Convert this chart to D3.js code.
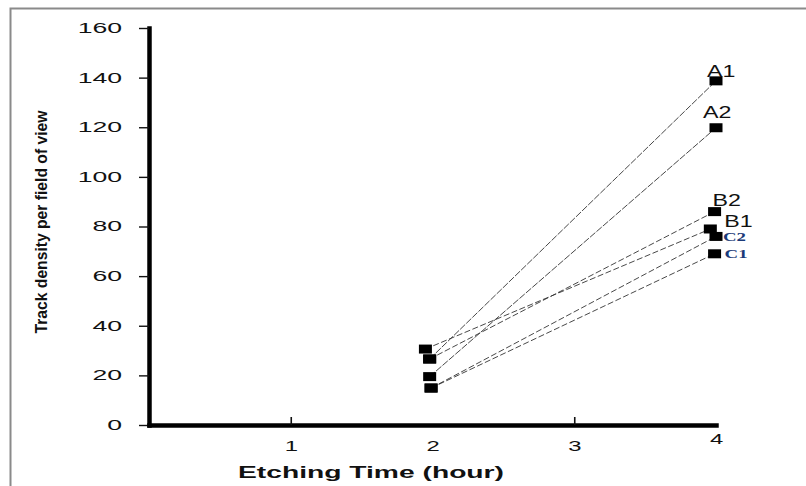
<!DOCTYPE html>
<html>
<head>
<meta charset="utf-8">
<style>
    body {
        margin: 0;
        background: #fff;
    }

    svg {
        display: block;
        font-family: Arial, "Liberation Sans", sans-serif;
    }
</style>
</head>
<body>
<svg width="806" height="486"></svg>

<script src="https://d3js.org/d3.v7.min.js"></script>
<script>
    // track density per field of view vs etching time (hour)
    const series = ["A1", "A2", "B1", "B2", "C1", "C2"];
    const startTime = [1.98, 1.98, 1.95, 1.98, 1.99, 1.99];
    const startDensity = [26.6, 19.5, 30.6, 26.6, 14.9, 14.9];
    const endTime = [4, 4, 3.96, 3.99, 3.99, 4];
    const endDensity = [138.7, 119.8, 79, 86, 69, 76];

    const xTicks = [1, 2, 3, 4];
    const yTicks = [0, 20, 40, 60, 80, 100, 120, 140, 160];

    let svg = d3.select("svg");

    let x = d3.scaleLinear().domain([0, 4]).range([149, 716]);
    let y = d3.scaleLinear().domain([0, 160]).range([425, 28]);

    // stretch text sideways, the source picture is very wide
    function stretch(sel, k) {
        sel.each(function () {
            let w = this.getComputedTextLength();
            d3.select(this)
                .attr("textLength", w * k)
                .attr("lengthAdjust", "spacingAndGlyphs");
        });
    }

    // outer frame (top and left edges only)
    svg.append("path")
        .attr("d", "M10.5,486 V8.5 H806")
        .style("fill", "none")
        .style("stroke", "#8a8a8a")
        .style("stroke-width", 2);

    // y axis
    let yAxis = svg.append("g")
        .attr("transform", "translate(149,0)")
        .call(d3.axisLeft(y).tickValues(yTicks).tickSize(10).tickSizeOuter(0).tickPadding(17));

    yAxis.select(".domain")
        .style("stroke", "#000")
        .style("stroke-width", 4.5)
        .style("stroke-linecap", "square");
    yAxis.selectAll(".tick line")
        .style("stroke", "#111")
        .style("stroke-width", 1.4);
    yAxis.selectAll(".tick text")
        .style("font-size", "14px")
        .style("font-family", "Arial, 'Liberation Sans', sans-serif")
        .style("fill", "#111")
        .call(stretch, 1.9);

    // x axis
    let xAxis = svg.append("g")
        .attr("transform", "translate(0,425)")
        .call(d3.axisBottom(x).tickValues(xTicks).tickSize(-8).tickSizeOuter(0).tickFormat(d3.format("d")));

    xAxis.select(".domain")
        .style("stroke", "#000")
        .style("stroke-width", 4.5)
        .style("stroke-linecap", "square");
    xAxis.selectAll(".tick line")
        .style("stroke", "#111")
        .style("stroke-width", 1.6)
        .style("opacity", d => d % 2 === 1 ? 1 : 0);
    xAxis.selectAll(".tick text")
        .attr("y", (d, i) => i === xTicks.length - 1 ? 9 : 16)
        .style("font-size", "14px")
        .style("font-family", "Arial, 'Liberation Sans', sans-serif")
        .style("fill", "#111")
        .call(stretch, 1.7);

    // axis titles
    svg.append("text")
        .attr("x", 371)
        .attr("y", 478)
        .attr("text-anchor", "middle")
        .attr("textLength", 266)
        .attr("lengthAdjust", "spacingAndGlyphs")
        .style("font-size", "17px")
        .style("font-weight", "bold")
        .style("fill", "#111")
        .text("Etching Time (hour)");

    svg.append("text")
        .attr("transform", "translate(47,222) rotate(-90)")
        .attr("text-anchor", "middle")
        .attr("textLength", 223)
        .attr("lengthAdjust", "spacingAndGlyphs")
        .style("font-family", "'Liberation Sans Narrow', 'Arial Narrow', Arial, sans-serif")
        .style("font-size", "17px")
        .style("font-weight", "bold")
        .style("fill", "#111")
        .text("Track density per field of view");

    let rows = series.map((s, i) => ({
        name: s,
        pts: [[startTime[i], startDensity[i]], [endTime[i], endDensity[i]]]
    }));

    let line = d3.line()
        .x(d => x(d[0]))
        .y(d => y(d[1]));

    svg.selectAll(".series")
        .data(rows)
        .join("path")
        .attr("class", "series")
        .attr("d", d => line(d.pts))
        .style("fill", "none")
        .style("stroke", "#333")
        .style("stroke-width", 0.9)
        .style("stroke-dasharray", d => d.name[0] === "A" ? "7,1.5" : "6,2.5");

    let pts = rows.flatMap(d => d.pts);
    svg.selectAll(".pt")
        .data(pts)
        .join("rect")
        .attr("class", "pt")
        .attr("x", d => x(d[0]) - 6.5)
        .attr("y", d => y(d[1]) - 4.5)
        .attr("width", 13)
        .attr("height", 9)
        .style("fill", "#000");

    // data labels next to the 4 hour points
    let labelOffset = {
        A1: [-9, -4], A2: [-13, -10], B1: [14, -2],
        B2: [-2, -6], C1: [10, 4], C2: [7, 5]
    };

    svg.selectAll(".lbl")
        .data(rows)
        .join("text")
        .attr("class", "lbl")
        .attr("x", d => x(d.pts[1][0]) + labelOffset[d.name][0])
        .attr("y", d => y(d.pts[1][1]) + labelOffset[d.name][1])
        .style("font-family", d => d.name[0] === "C" ? "'Liberation Serif', 'Times New Roman', serif" : "Arial, 'Liberation Sans', sans-serif")
        .style("font-weight", d => d.name[0] === "C" ? "bold" : "normal")
        .style("font-size", d => d.name[0] === "C" ? "13px" : "16px")
        .style("fill", d => d.name[0] === "C" ? "#1b3a78" : "#111")
        .text(d => d.name)
        .call(stretch, 1.45);
</script>
</body>
</html>
